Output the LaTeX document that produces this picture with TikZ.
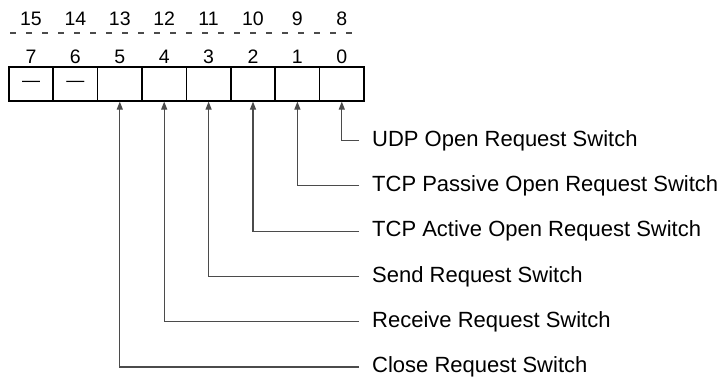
\documentclass[tikz,border=0pt]{standalone}
\usepackage{fontspec}
\setmainfont{Liberation Sans}
\usetikzlibrary{arrows.meta,positioning}
\definecolor{leadgray}{RGB}{75,75,75}

\tikzset{
  cellbox/.style={draw, line width=1.6pt, minimum width=44.4pt, minimum height=33.5pt,
    inner sep=0pt, font=\fontsize{18}{18}\selectfont},
  bitnum/.style={inner sep=0pt, font=\fontsize{19.5}{19.5}\selectfont},
  swlabel/.style={anchor=west, inner xsep=13pt, inner ysep=0pt, font=\fontsize{22}{22}\selectfont},
  lead/.style={draw=leadgray, line width=1.1pt, -{Triangle[length=8pt,width=6pt]}}
}

\begin{document}
\begin{tikzpicture}[x=1pt,y=-1pt]
  \useasboundingbox (0,0) rectangle (723,380);
  % word layout
  \foreach \i/\txt in {0/,1/,2/,3/,4/,5/,6/---,7/---}
    \node[cellbox] (c\i) at ({364-(\i+0.5)*44.4},84) {\txt};
  \foreach \i in {0,...,7} {
    \pgfmathtruncatemacro{\hi}{\i+8}
    \node[bitnum] (lo\i) at (c\i |- 0,57) {\i};
    \node[bitnum] (hi\i) at (c\i |- 0,19) {\hi};
  }
  \draw[leadgray, line width=1.4pt, dash pattern=on 6pt off 10pt] (10,33) -- (362,33);
  % switches
  \node[swlabel] (sw0) at (359,140.5) {UDP Open Request Switch};
  \node[swlabel] (sw1) at (359,185.8) {TCP Passive Open Request Switch};
  \node[swlabel] (sw2) at (359,231.1) {TCP Active Open Request Switch};
  \node[swlabel] (sw3) at (359,276.4) {Send Request Switch};
  \node[swlabel] (sw4) at (359,321.7) {Receive Request Switch};
  \node[swlabel] (sw5) at (359,367) {Close Request Switch};
  \foreach \i in {0,...,5}
    \draw[lead] (sw\i.west) -| (c\i.south);
\end{tikzpicture}
\end{document}
